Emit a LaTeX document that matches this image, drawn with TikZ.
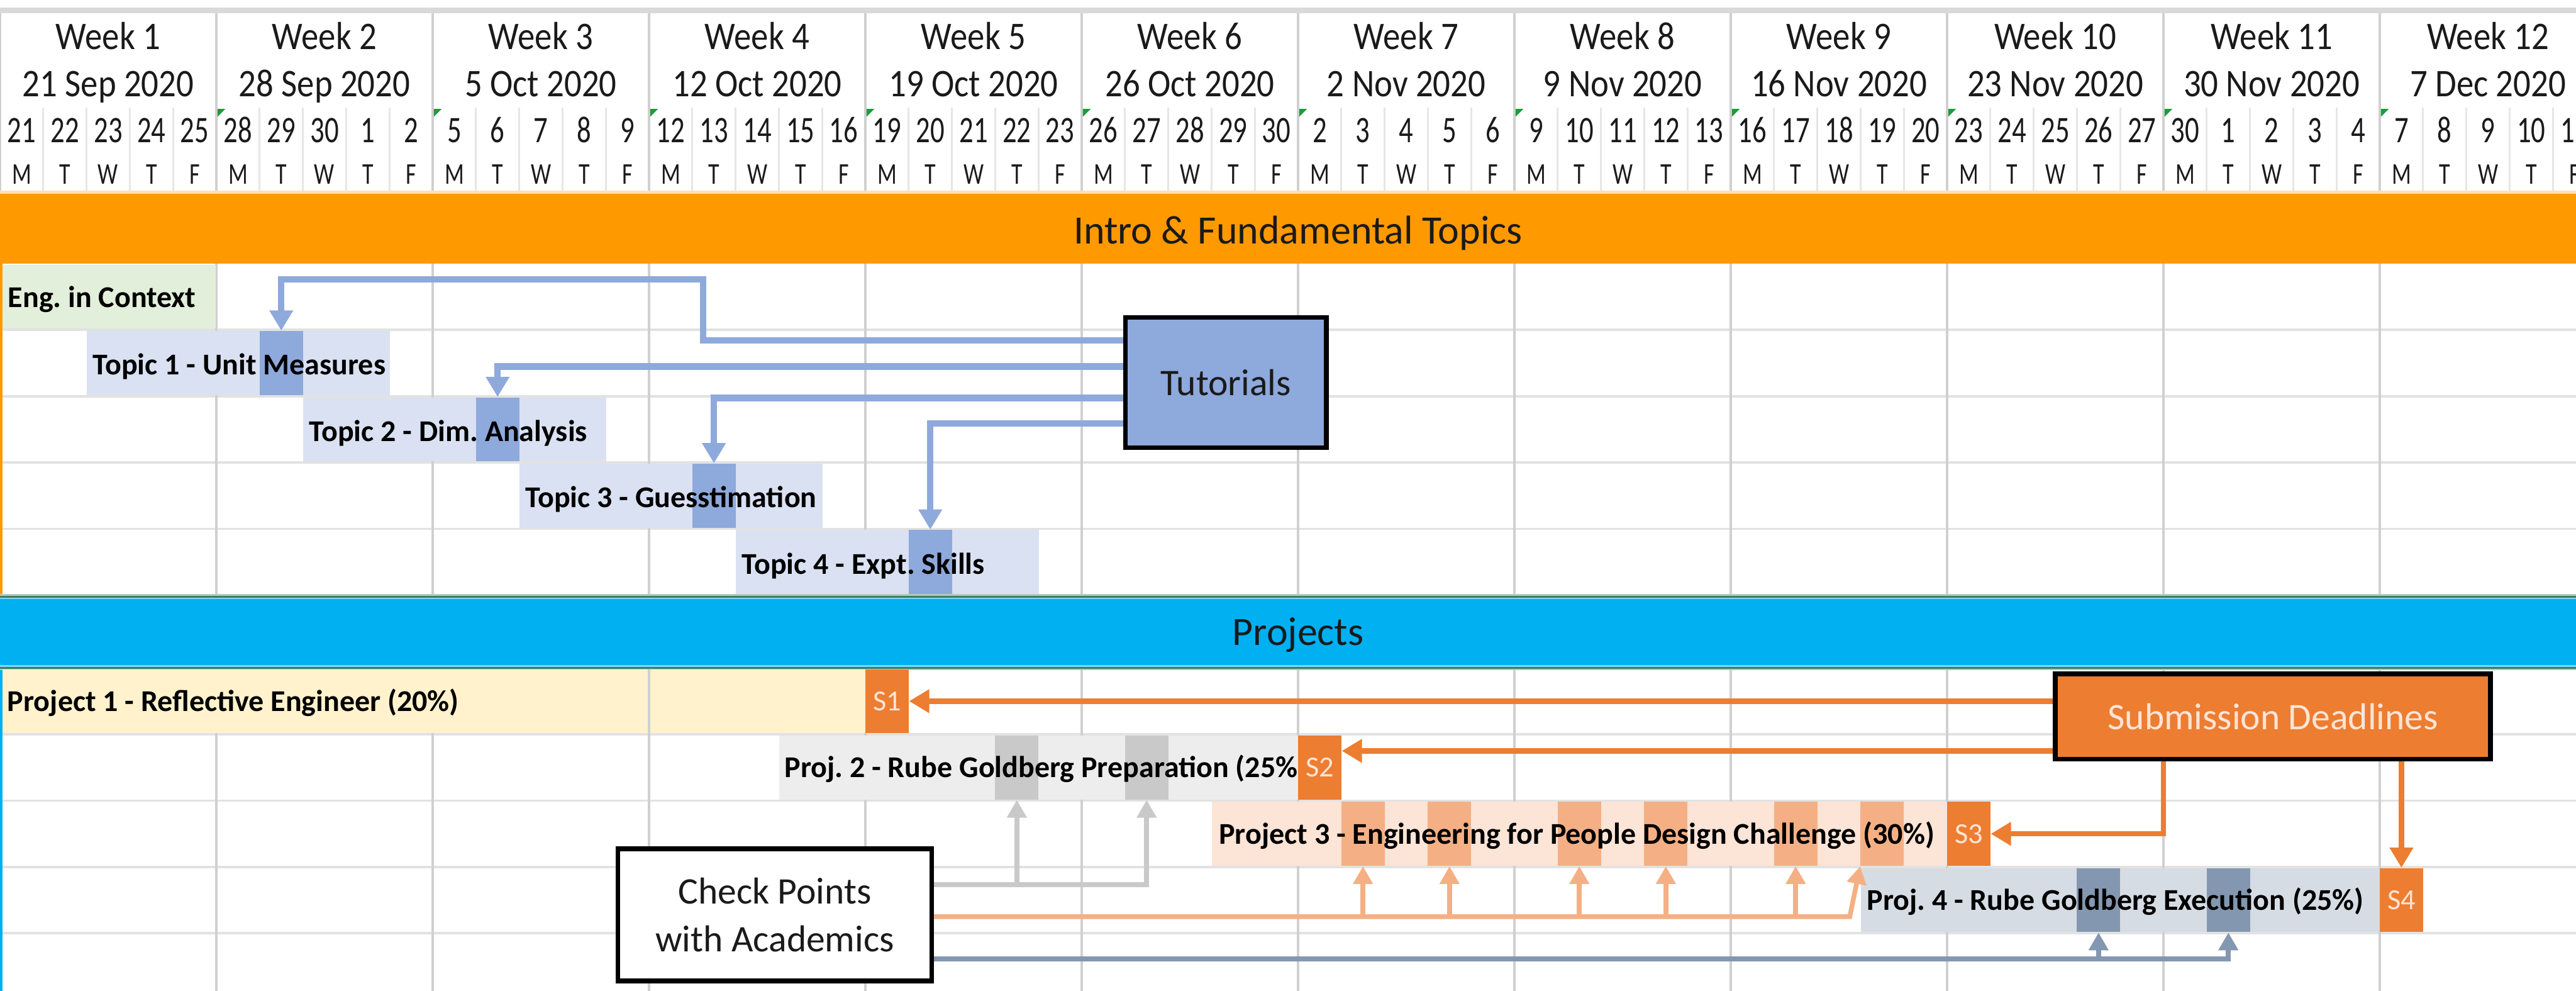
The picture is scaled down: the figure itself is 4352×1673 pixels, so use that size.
\documentclass[tikz,border=0pt]{standalone}
\usepackage{fontspec}
\setmainfont{Carlito}
\newfontfamily\headfont{Carlito}[FakeStretch=0.88]
\newfontfamily\narrowfont{Carlito}[FakeStretch=0.75]
\usetikzlibrary{arrows.meta}
\frenchspacing

\definecolor{bandorange}{HTML}{FF9900}
\definecolor{bandblue}{HTML}{00B0F0}
\definecolor{bandgreen}{HTML}{3E7F5C}
\definecolor{engfill}{HTML}{E2EFDA}
\definecolor{toplight}{HTML}{D9E1F2}
\definecolor{topdark}{HTML}{8EA9DB}
\definecolor{reflfill}{HTML}{FFF2CC}
\definecolor{prepfill}{HTML}{EDEDED}
\definecolor{prepdark}{HTML}{C9C9C9}
\definecolor{peoplefill}{HTML}{FCE4D6}
\definecolor{peopledark}{HTML}{F4B084}
\definecolor{execfill}{HTML}{D6DCE4}
\definecolor{execdark}{HTML}{8497B0}
\definecolor{sorange}{HTML}{ED7D31}
\definecolor{speach}{HTML}{FCE4D6}
\definecolor{gridgray}{HTML}{D0D0D0}
\definecolor{rowgray}{HTML}{E2E2E2}
\definecolor{daygray}{HTML}{E6E6E6}
\definecolor{markgreen}{HTML}{1E9B3C}
\definecolor{inkgray}{HTML}{1A1A1A}

\newcommand\daywd{0.731cm}

\tikzset{
  weekline/.style={draw=gridgray, line width=0.04cm},
  rowline/.style={draw=rowgray, line width=0.04cm},
  dayline/.style={draw=daygray, line width=0.03cm},
  headtext/.style={anchor=base, inner sep=0pt, text=inkgray, font=\headfont\fontsize{18.8}{22}\selectfont},
  daytext/.style={anchor=base, inner sep=0pt, text=inkgray, font=\narrowfont\fontsize{18}{21}\selectfont},
  lettext/.style={anchor=base, inner sep=0pt, text=inkgray, font=\narrowfont\fontsize{14.5}{17}\selectfont},
  bandtext/.style={anchor=base, inner sep=0pt, text=inkgray, font=\fontsize{19.3}{23}\selectfont},
  cell/.style={rectangle, inner sep=0pt, minimum height=1.08cm},
  bar/.style={cell, anchor=west},
  daycell/.style={cell, minimum width=\daywd},
  scell/.style={daycell, fill=sorange, text=speach, font=\fontsize{14}{17}\selectfont},
  barlabel/.style={anchor=base west, inner sep=0pt, text=black, font=\bfseries\fontsize{14.5}{17}\selectfont},
  infobox/.style={rectangle, draw=black, line width=0.08cm, inner sep=0pt, text=inkgray, align=center, font=\fontsize{18}{22.8}\selectfont},
  tutlink/.style={draw=topdark, line width=0.11cm, -{Triangle[length=0.34cm,width=0.38cm]}},
  sublink/.style={draw=sorange, line width=0.09cm, -{Triangle[length=0.34cm,width=0.38cm]}},
  chklink/.style={draw=#1, line width=0.08cm, -{Triangle[length=0.3cm,width=0.32cm]}},
}

\begin{document}
\begin{tikzpicture}[x=0.01cm, y=-0.01cm]
\useasboundingbox (0,0) rectangle (4352,1673);
\clip (0,0) rectangle (4352,1673);
\fill[white] (0,0) rectangle (4352,1673);

% header
\fill[gray!30] (0,13) rectangle (4352,22);
\foreach \i in {1,...,59} \draw[dayline] ({73.1*\i},182) -- ({73.1*\i},327);
\foreach \k in {0,...,11} \draw[weekline] ({365.5*\k},22) -- ({365.5*\k},327);
\foreach \k in {1,...,11} \fill[markgreen] ({365.5*\k+2},184) -- ++(13,0) -- ++(-13,13) -- cycle;
\foreach \dt [count=\w] in {21 Sep 2020, 28 Sep 2020, 5 Oct 2020, 12 Oct 2020, 19 Oct 2020, 26 Oct 2020,
    2 Nov 2020, 9 Nov 2020, 16 Nov 2020, 23 Nov 2020, 30 Nov 2020, 7 Dec 2020} {
  \node[headtext] (wk\w) at ({365.5*(\w-0.5)},83) {Week \w};
  \node[headtext] (dt\w) at ({365.5*(\w-0.5)},163) {\dt};
}
\foreach \n [count=\i from 0] in {21,22,23,24,25, 28,29,30,1,2, 5,6,7,8,9, 12,13,14,15,16,
    19,20,21,22,23, 26,27,28,29,30, 2,3,4,5,6, 9,10,11,12,13, 16,17,18,19,20,
    23,24,25,26,27, 30,1,2,3,4, 7,8,9,10,11}
  \node[daytext] (dn\i) at ({73.1*(\i+0.5)},241) {\n};
\foreach \k in {0,...,11}
  \foreach \l [count=\j from 0] in {M,T,W,T,F}
    \node[lettext] (dl\k-\j) at ({73.1*(5*\k+\j+0.5)},311) {\l};

% section bands and grid
\fill[bandorange!30] (0,322) rectangle (4352,327);
\fill[bandorange] (0,327) rectangle (4352,445);
\node[bandtext] (intro) at (2193,412) {Intro \& Fundamental Topics};
\foreach \y in {557,669,781,893,1240,1352,1464,1576} \draw[rowline] (0,\y) -- (4352,\y);
\foreach \k in {1,...,11} \draw[weekline] ({365.5*\k},445) -- ({365.5*\k},1673);
\fill[bandorange] (0,445) rectangle (4,1003);
\fill[bandblue] (0,1132) rectangle (4,1673);
\fill[bandgreen!40] (0,1003) rectangle (4352,1132);
\fill[bandgreen] (0,1006) rectangle (4352,1129);
\fill[bandblue!50] (0,1009) rectangle (4352,1126);
\fill[bandblue] (0,1012) rectangle (4352,1123);
\node[bandtext] (projects) at (2193,1090) {Projects};

% topics
\node[bar, fill=engfill, minimum width=3.6cm] (eng) at (4,501) {};
\node[bar, fill=toplight, minimum width=7*\daywd] (t1) at ({2*73.1},613) {};
\node[bar, fill=toplight, minimum width=7*\daywd] (t2) at ({7*73.1},725) {};
\node[bar, fill=toplight, minimum width=7*\daywd] (t3) at ({12*73.1},837) {};
\node[bar, fill=toplight, minimum width=7*\daywd] (t4) at ({17*73.1},949) {};
\node[daycell, fill=topdark] (h1) at ({6.5*73.1},613) {};
\node[daycell, fill=topdark] (h2) at ({11.5*73.1},725) {};
\node[daycell, fill=topdark] (h3) at ({16.5*73.1},837) {};
\node[daycell, fill=topdark] (h4) at ({21.5*73.1},949) {};
\node[barlabel] (englbl) at ([xshift=0.09cm,yshift=-0.18cm]eng.west) {Eng. in Context};
\node[barlabel] (t1lbl) at ([xshift=0.1cm,yshift=-0.2cm]t1.west) {Topic 1 - Unit Measures};
\node[barlabel] (t2lbl) at ([xshift=0.1cm,yshift=-0.2cm]t2.west) {Topic 2 - Dim. Analysis};
\node[barlabel] (t3lbl) at ([xshift=0.1cm,yshift=-0.2cm]t3.west) {Topic 3 - Guesstimation};
\node[barlabel] (t4lbl) at ([xshift=0.1cm,yshift=-0.2cm]t4.west) {Topic 4 - Expt. Skills};

% projects
\node[bar, fill=reflfill, minimum width=14.58cm] (p1) at (4,1184) {};
\draw[weekline] (1096.5,1130) -- (1096.5,1238);
\node[bar, fill=prepfill, minimum width=12*\daywd] (p2) at ({18*73.1},1296) {};
\node[bar, fill=peoplefill, minimum width=17*\daywd] (p3) at ({28*73.1},1408) {};
\node[bar, fill=execfill, minimum width=12*\daywd] (p4) at ({43*73.1},1520) {};
\node[daycell, fill=prepdark] (g1) at ({23.5*73.1},1296) {};
\node[daycell, fill=prepdark] (g2) at ({26.5*73.1},1296) {};
\foreach \d [count=\k] in {31,33,36,38,41,43}
  \node[daycell, fill=peopledark] (o\k) at ({(\d+0.5)*73.1},1408) {};
\node[daycell, fill=execdark] (b1) at ({48.5*73.1},1520) {};
\node[daycell, fill=execdark] (b2) at ({51.5*73.1},1520) {};
\node[barlabel] (p1lbl) at ([xshift=0.08cm,yshift=-0.17cm]p1.west) {Project 1 - Reflective Engineer (20\%)};
\node[barlabel] (p2lbl) at ([xshift=0.09cm,yshift=-0.17cm]p2.west) {Proj. 2 - Rube Goldberg Preparation (25\%)};
\node[barlabel] (p3lbl) at ([xshift=0.12cm,yshift=-0.17cm]p3.west) {Project 3 - Engineering for People Design Challenge (30\%)};
\node[barlabel] (p4lbl) at ([xshift=0.1cm,yshift=-0.17cm]p4.west) {Proj. 4 - Rube Goldberg Execution (25\%)};
\node[scell] (s1) at ({20.5*73.1},1184) {S1};
\node[scell] (s2) at ({30.5*73.1},1296) {S2};
\node[scell] (s3) at ({45.5*73.1},1408) {S3};
\node[scell] (s4) at ({55.5*73.1},1520) {S4};

% boxes
\node[infobox, fill=topdark, minimum width=3.39cm, minimum height=2.2cm] (tut) at (2071,646) {Tutorials};
\node[infobox, fill=sorange, text=speach, minimum width=7.35cm, minimum height=1.44cm] (sub) at (3840,1210) {Submission Deadlines};
\node[infobox, fill=white, minimum width=5.3cm, minimum height=2.23cm] (chk) at (1309,1545) {Check Points\\with Academics};

% connectors
\draw[tutlink] (tut.west |- 0,575) -- (1188,575) -- (1188,472) -| (h1.north);
\draw[tutlink] (tut.west |- 0,619) -| (h2.north);
\draw[tutlink] (tut.west |- 0,672) -| (h3.north);
\draw[tutlink] (tut.west |- 0,715) -| (h4.north);

\draw[sublink] (sub.west |- s1.east) -- (s1.east);
\draw[sublink] (sub.west |- 0,1268) -- (s2.east |- 0,1268);
\draw[sublink] (sub.south -| 3655,0) |- (s3.east);
\draw[sublink] (sub.south -| s4.north) -- (s4.north);

\draw[chklink=prepdark] (chk.east |- 0,1494) -| (g2.south);
\draw[chklink=prepdark] (g1.south |- 0,1494) -- (g1.south);
\draw[chklink=peopledark] (chk.east |- 0,1548) -- (3125,1548) -- (o6.south west);
\foreach \k in {1,...,5} \draw[chklink=peopledark] (o\k.south |- 0,1548) -- (o\k.south);
\draw[chklink=execdark] (chk.east |- 0,1619) -| (b2.south);
\draw[chklink=execdark] (b1.south |- 0,1619) -- (b1.south);
\end{tikzpicture}
\end{document}
